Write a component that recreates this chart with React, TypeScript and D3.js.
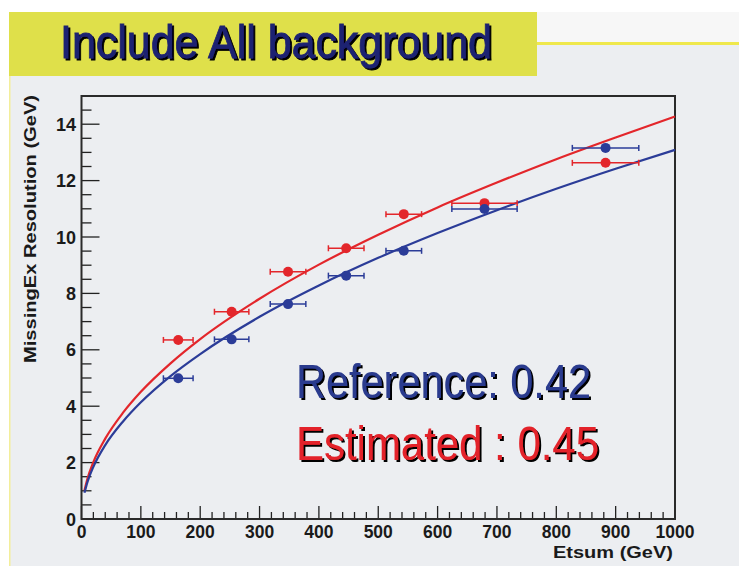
import React, { useEffect, useRef } from "react";
import * as d3 from "d3";

// points
const etsum = [163, 253, 348, 446, 543, 679, 883];
const etsumErr = [25, 29, 30, 30, 30, 55, 56];
const refRes = [4.99, 6.37, 7.62, 8.63, 9.51, 10.99, 13.16];
const estRes = [6.35, 7.35, 8.77, 9.6, 10.81, 11.2, 12.63];

// fit curves
const curveX = [5, 10, 20, 40, 70, 100, 150, 200, 300, 400, 500, 600, 700, 800, 900, 1000];
const refCurve = [0.93, 1.31, 1.85, 2.62, 3.46, 4.14, 5.07, 5.85, 7.17, 8.28, 9.26, 10.14, 10.95, 11.71, 12.42, 13.09];
const estCurve = [1.01, 1.43, 2.02, 2.85, 3.77, 4.51, 5.52, 6.38, 7.81, 9.02, 10.08, 11.05, 11.93, 12.76, 13.53, 14.27];

const BLUE = "#2b3c98";
const RED = "#e3262b";

const App = () => {
    const ref = useRef<SVGSVGElement>(null);

    useEffect(() => {
        if (!ref.current) return;
        const svg = d3.select(ref.current);
        svg.selectAll("*").remove();

        const defs = svg.append("defs");
        defs.append("filter").attr("id", "shadow")
            .attr("x", "-5%").attr("y", "-20%").attr("width", "115%").attr("height", "150%")
            .append("feDropShadow")
            .attr("dx", 2).attr("dy", 2).attr("stdDeviation", 0.6)
            .attr("flood-color", "#000").attr("flood-opacity", 1);

        // page background pieces
        svg.append("rect").attr("x", 0).attr("y", 0).attr("width", 739).attr("height", 567).attr("fill", "#ffffff");
        svg.append("rect").attr("x", 9).attr("y", 12).attr("width", 730).attr("height", 554).attr("fill", "#eceef1");
        svg.append("rect").attr("x", 537).attr("y", 12).attr("width", 202).attr("height", 30).attr("fill", "#f7f7f7");
        svg.append("rect").attr("x", 537).attr("y", 42).attr("width", 202).attr("height", 3).attr("fill", "#efe84c");
        svg.append("rect").attr("x", 9).attr("y", 12).attr("width", 1.5).attr("height", 554).attr("fill", "#f3ee9a");
        svg.append("rect").attr("x", 9).attr("y", 12).attr("width", 528).attr("height", 64).attr("fill", "#dfe04a");

        const narrow = "'Liberation Sans Narrow', 'Liberation Sans', Arial, sans-serif";
        svg.append("text").attr("x", 60).attr("y", 58).text("Include All background")
            .attr("font-family", narrow).attr("font-size", 47)
            .attr("textLength", 432).attr("lengthAdjust", "spacingAndGlyphs")
            .attr("stroke", "#1f2272").attr("stroke-width", 0.8)
            .attr("fill", "#1f2272").attr("filter", "url(#shadow)");

        const x = d3.scaleLinear().domain([0, 1000]).range([81.5, 675]);
        const y = d3.scaleLinear().domain([0, 15]).range([519, 96]);

        const font = "'Liberation Sans', Arial, sans-serif";
        const g = svg.append("g");

        // x ticks (inward)
        const xMinor = d3.range(0, 1001, 20);
        g.selectAll(".xt").data(xMinor).enter().append("line")
            .attr("x1", (d) => x(d)).attr("x2", (d) => x(d))
            .attr("y1", y(0)).attr("y2", (d) => y(0) - (d % 100 === 0 ? 13 : 7))
            .attr("stroke", "#222").attr("stroke-width", 1.3);
        g.selectAll(".xl").data(x.ticks(10)).enter().append("text")
            .attr("x", (d) => x(d)).attr("y", 538)
            .attr("text-anchor", "middle").attr("font-family", font).attr("font-weight", "bold")
            .attr("font-size", 17.5).attr("fill", "#1a1a1a").text((d) => d);

        // y ticks (inward)
        const yMinor = d3.range(0, 15.01, 0.5);
        g.selectAll(".yt").data(yMinor).enter().append("line")
            .attr("x1", x(0)).attr("x2", (d) => x(0) + (d % 2 === 0 ? 18 : 10))
            .attr("y1", (d) => y(d)).attr("y2", (d) => y(d))
            .attr("stroke", "#222").attr("stroke-width", 1.3);
        g.selectAll(".yl").data(d3.range(0, 15, 2)).enter().append("text")
            .attr("x", 76).attr("y", (d) => y(d) + 6.5)
            .attr("text-anchor", "end").attr("font-family", font).attr("font-weight", "bold")
            .attr("font-size", 18).attr("fill", "#1a1a1a").text((d) => d);

        // frame
        g.append("rect").attr("x", x(0)).attr("y", y(15))
            .attr("width", x(1000) - x(0)).attr("height", y(0) - y(15))
            .attr("fill", "none").attr("stroke", "#2a2a2a").attr("stroke-width", 2);

        // axis titles
        g.append("text").attr("transform", "translate(36,95) rotate(-90)")
            .attr("text-anchor", "end").attr("font-family", font).attr("font-weight", "bold")
            .attr("font-size", 17).attr("textLength", 268).attr("lengthAdjust", "spacingAndGlyphs")
            .attr("fill", "#1a1a1a").text("MissingEx Resolution (GeV)");
        g.append("text").attr("x", 673).attr("y", 558)
            .attr("text-anchor", "end").attr("font-family", font).attr("font-weight", "bold")
            .attr("font-size", 17).attr("textLength", 120).attr("lengthAdjust", "spacingAndGlyphs")
            .attr("fill", "#1a1a1a").text("Etsum (GeV)");

        // curves
        const line = d3.line<number>()
            .x((_, i) => x(curveX[i]))
            .y((d) => y(d))
            .curve(d3.curveMonotoneX);
        g.append("path").attr("d", line(estCurve)).attr("fill", "none").attr("stroke", RED).attr("stroke-width", 2.2);
        g.append("path").attr("d", line(refCurve)).attr("fill", "none").attr("stroke", BLUE).attr("stroke-width", 2.2);

        // points with horizontal error bars
        const drawPts = (vals: number[], color: string) => {
            const pg = g.append("g");
            vals.forEach((v, i) => {
                const x1 = x(etsum[i] - etsumErr[i]);
                const x2 = x(etsum[i] + etsumErr[i]);
                const yy = y(v);
                pg.append("line").attr("x1", x1).attr("x2", x2).attr("y1", yy).attr("y2", yy)
                    .attr("stroke", color).attr("stroke-width", 1.5);
                [x1, x2].forEach((xx) => {
                    pg.append("line").attr("x1", xx).attr("x2", xx).attr("y1", yy - 3).attr("y2", yy + 3)
                        .attr("stroke", color).attr("stroke-width", 1.5);
                });
                pg.append("circle").attr("cx", x(etsum[i])).attr("cy", yy).attr("r", 5).attr("fill", color);
            });
        };
        drawPts(estRes, RED);
        drawPts(refRes, BLUE);

        // big annotation text
        const legend = [
            { text: "Reference: 0.42", color: "#2a3a8e", y: 398, w: 295, size: 49 },
            { text: "Estimated : 0.45", color: "#e3232a", y: 460, w: 303, size: 48 },
        ];
        legend.forEach((l) => {
            svg.append("text").attr("x", 296).attr("y", l.y).text(l.text)
                .attr("font-family", narrow)
                .attr("font-size", l.size).attr("textLength", l.w).attr("lengthAdjust", "spacingAndGlyphs")
                .attr("fill", l.color).attr("filter", "url(#shadow)");
        });
    }, []);

    return (
        <svg
            ref={ref}
            width={739}
            height={567}
            style={{ position: "absolute", left: 0, top: 0 }}
        />
    );
};

export default App;
